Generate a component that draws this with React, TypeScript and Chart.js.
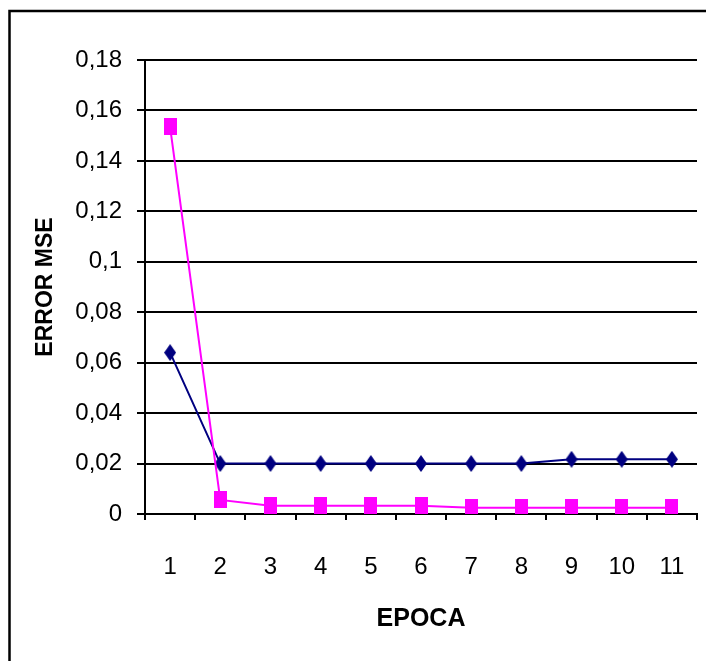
import React, { useEffect, useRef } from "react";
import { Chart, registerables } from "chart.js";

Chart.register(...registerables);

// Training epochs on the horizontal axis
const epochs = ["1", "2", "3", "4", "5", "6", "7", "8", "9", "10", "11"];

// MSE per epoch, first series (navy diamonds)
const mseNavy = [0.064, 0.02, 0.02, 0.02, 0.02, 0.02, 0.02, 0.02, 0.0217, 0.0217, 0.0217];

// MSE per epoch, second series (magenta squares)
const mseMagenta = [0.1535, 0.0056, 0.0033, 0.0033, 0.0033, 0.0033, 0.0025, 0.0025, 0.0025, 0.0025, 0.0025];

// Value axis labels, decimal comma
const yTickLabels = ["0", "0,02", "0,04", "0,06", "0,08", "0,1", "0,12", "0,14", "0,16", "0,18"];

const FONT = "'Liberation Sans', Arial, sans-serif";
const NAVY = "#000080";
const MAGENTA = "#FF00FF";

function makeDiamond(w: number, h: number, color: string): HTMLCanvasElement {
  const c = document.createElement("canvas");
  c.width = w;
  c.height = h;
  const g = c.getContext("2d")!;
  g.fillStyle = color;
  g.beginPath();
  g.moveTo(w / 2, 0);
  g.lineTo(w, h / 2);
  g.lineTo(w / 2, h);
  g.lineTo(0, h / 2);
  g.closePath();
  g.fill();
  return c;
}

function makeBox(w: number, h: number, color: string): HTMLCanvasElement {
  const c = document.createElement("canvas");
  c.width = w;
  c.height = h;
  const g = c.getContext("2d")!;
  g.fillStyle = color;
  g.fillRect(0, 0, w, h);
  return c;
}

// Frame around the whole chart (only its left and top edges fall inside the canvas)
const outerFrame = {
  id: "outerFrame",
  beforeDraw(chart: any) {
    const ctx = chart.ctx;
    ctx.save();
    ctx.strokeStyle = "#000";
    ctx.lineWidth = 2.5;
    ctx.beginPath();
    ctx.moveTo(9.5, chart.height + 5);
    ctx.lineTo(9.5, 11);
    ctx.lineTo(chart.width + 5, 11);
    ctx.stroke();
    ctx.restore();
  },
};

export default function App() {
  const canvasRef = useRef<HTMLCanvasElement | null>(null);

  useEffect(() => {
    const canvas = canvasRef.current;
    if (!canvas) return;

    const diamond = makeDiamond(12, 17, NAVY);
    const square = makeBox(13, 17, MAGENTA);

    const chart = new Chart(canvas, {
      type: "line",
      data: {
        labels: epochs,
        datasets: [
          {
            data: mseNavy,
            borderColor: NAVY,
            backgroundColor: NAVY,
            borderWidth: 2,
            tension: 0,
            pointStyle: diamond as any,
            order: 2,
          },
          {
            data: mseMagenta,
            borderColor: MAGENTA,
            backgroundColor: MAGENTA,
            borderWidth: 2,
            tension: 0,
            pointStyle: square as any,
            order: 1,
          },
        ],
      },
      options: {
        responsive: false,
        animation: false,
        layout: { padding: { top: 60, right: 9, left: 0, bottom: 0 } },
        plugins: {
          legend: { display: false },
          tooltip: { enabled: false },
        },
        scales: {
          x: {
            type: "category",
            offset: true,
            grid: {
              offset: true,
              drawOnChartArea: true,
              drawTicks: true,
              tickLength: 6,
              lineWidth: 2,
              tickColor: "#000",
              color: (c: any) => (c.index === epochs.length ? "#000" : "rgba(0,0,0,0)"),
            },
            border: { display: true, color: "#000", width: 2 },
            ticks: {
              color: "#000",
              padding: 33,
              maxRotation: 0,
              autoSkip: false,
              font: { family: FONT, size: 24 },
            },
            title: {
              display: true,
              text: "EPOCA",
              color: "#000",
              font: { family: FONT, size: 25, weight: "bold" },
              padding: { top: 0, bottom: 27 },
            },
            afterFit: (scale: any) => {
              scale.height = 147;
              scale.paddingLeft = 0;
              scale.paddingRight = 0;
            },
          },
          y: {
            min: 0,
            max: 0.18,
            grid: {
              color: "#000",
              lineWidth: 2,
              drawTicks: true,
              tickLength: 8,
              tickColor: "#000",
            },
            border: { display: true, color: "#000", width: 2 },
            ticks: {
              stepSize: 0.02,
              color: "#000",
              padding: 15,
              font: { family: FONT, size: 24 },
              callback: (_v: any, i: number) => yTickLabels[i],
            },
            title: {
              display: true,
              text: "ERROR MSE",
              color: "#000",
              font: { family: FONT, size: 23, weight: "bold" },
              padding: { top: 32, bottom: 0 },
            },
            afterFit: (scale: any) => {
              scale.width = 145;
            },
          },
        },
      },
      plugins: [outerFrame],
    });

    return () => chart.destroy();
  }, []);

  return (
    <div style={{ position: "absolute", left: 0, top: 0, width: 706, height: 661, background: "#fff" }}>
      <canvas ref={canvasRef} width={706} height={661} style={{ display: "block" }} />
    </div>
  );
}
